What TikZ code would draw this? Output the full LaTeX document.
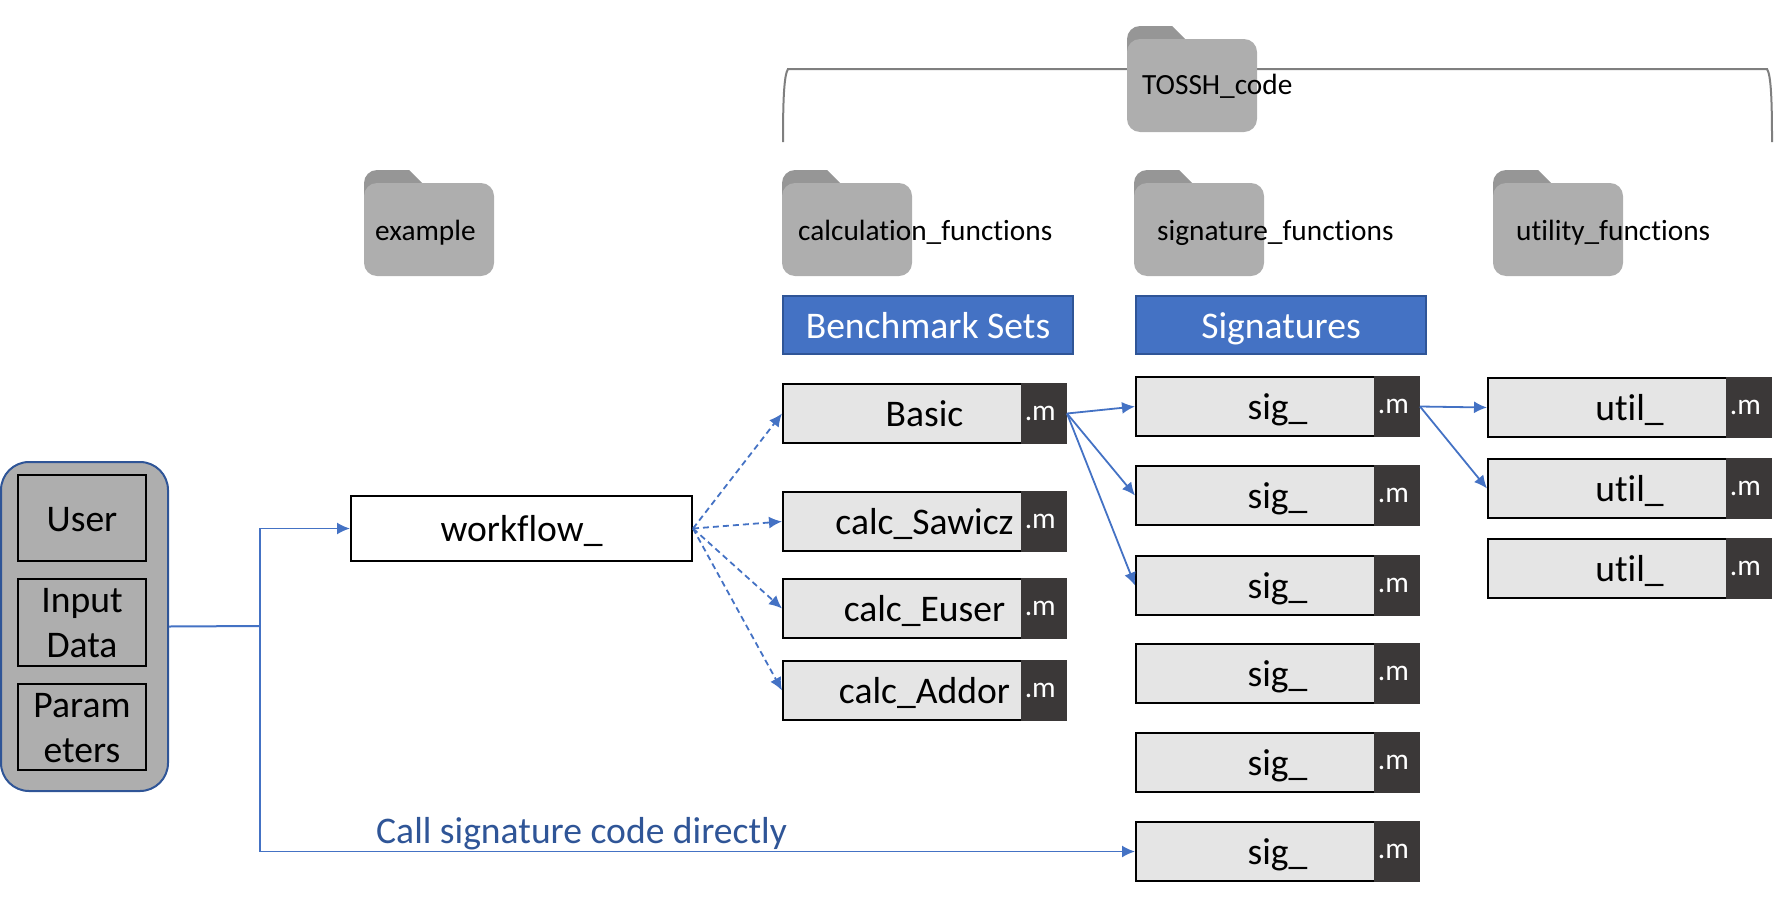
\documentclass[tikz,border=0pt]{standalone}
\usepackage{fontspec}
\setmainfont{Carlito}[Ligatures=CommonOff]
\usetikzlibrary{arrows.meta}
\definecolor{flowblue}{HTML}{4472C4}
\definecolor{deepblue}{HTML}{2F5597}
\definecolor{tagdark}{HTML}{3B3838}
\definecolor{boxlight}{HTML}{E5E5E5}
\definecolor{foldergrey}{HTML}{AEAEAE}
\definecolor{tabgrey}{HTML}{969696}
\definecolor{bracegrey}{HTML}{7F7F7F}
\newcommand{\bigtext}{\fontsize{37.6}{44.5}\selectfont}
\newcommand{\mfile}{\makebox[38.7pt][l]{.m}}
\tikzset{
	codebox/.style = {draw, line width = 2pt, fill = boxlight, anchor = north west, inner sep = 0pt, xshift = -1pt, yshift = 1pt,
		minimum width = 283pt, minimum height = 59pt, text height = 42pt, text depth = 17pt, font = \bigtext},
	mtag/.style = {draw = tagdark, line width = 1pt, fill = tagdark, text = white, anchor = north east, inner xsep = 3pt, inner ysep = 0pt,
		minimum height = 60pt, text height = 36.5pt, text depth = 23.5pt, font = \fontsize{29.5}{32}\selectfont},
	titlebox/.style = {draw = deepblue, line width = 2pt, fill = flowblue, text = white, anchor = north west, inner sep = 0pt, xshift = -1pt, yshift = 1pt,
		minimum width = 290pt, minimum height = 58pt, text height = 42pt, text depth = 16pt, font = \bigtext},
	inputbox/.style = {draw, line width = 2pt, anchor = north west, inner sep = 0pt, xshift = -1pt, yshift = 1pt,
		minimum width = 128pt, align = center, font = \bigtext},
	folderlabel/.style = {anchor = base west, inner sep = 0pt, font = \fontsize{29.3}{32}\selectfont},
	flow/.style = {draw = flowblue, line width = 1.8pt, -{Latex[length = 13pt, width = 12pt]}},
	flowdash/.style = {flow, dash pattern = on 6pt off 4pt},
	folder/.pic = {
		\fill[tabgrey] (0,40) [rounded corners = 13pt] -- (0,0) [sharp corners] -- (45,0) -- (58,13) -- (58,40) -- cycle;
		\fill[foldergrey, rounded corners = 13pt] (0,13) rectangle (130,106);
	}
}
\begin{document}
\begin{tikzpicture}[x = 1pt, y = -1pt]
	\useasboundingbox (0,0) rectangle (1779,897);

	% top bracket
	\coordinate (braceleft) at (783,142);
	\coordinate (braceright) at (1772,142);
	\draw[bracegrey, line width = 2pt] (braceleft) .. controls (783,100) and (784,75) .. (788,69) -- (1767,69) .. controls (1771,75) and (1772,100) .. (braceright);

	% folders
	\pic at (1127,26) {folder};
	\pic at (364,170) {folder};
	\pic at (782,170) {folder};
	\pic at (1134,170) {folder};
	\pic at (1493,170) {folder};
	\node[folderlabel] (tosshlabel) at (1142,94) {TOSSH\_code};
	\node[folderlabel] (examplelabel) at (375,240) {example};
	\node[folderlabel] (calclabel) at (798,240) {calculation\_functions};
	\node[folderlabel] (siglabel) at (1157,240) {signature\_functions};
	\node[folderlabel] (utillabel) at (1516,240) {utility\_functions};

	\node[titlebox] (benchmark) at (783,296) {Benchmark Sets};
	\node[titlebox] (signatures) at (1136,296) {Signatures};

	% left block
	\node[draw = deepblue, line width = 2pt, fill = foldergrey, rounded corners = 28pt, anchor = north west, inner sep = 0pt, xshift = -1pt, minimum width = 167pt, minimum height = 329pt] (caller) at (1,461) {};
	\node[inputbox, minimum height = 86pt, text height = 56pt, text depth = 30pt] (user) at (18,475) {User};
	\node[inputbox, minimum height = 87pt, text height = 78pt, text depth = 9pt] (data) at (18,579) {Input\\Data};
	\node[inputbox, minimum height = 86pt, text height = 78pt, text depth = 8pt] (params) at (18,684) {Param\\eters};

	\node[codebox, fill = white, minimum width = 341pt, minimum height = 65pt, text height = 45pt, text depth = 20pt] (workflow) at (351,496) {workflow\_};

	% benchmark scripts
	\foreach \name/\ytop/\script in {basic/384/Basic, sawicz/492/calc\_Sawicz, euser/579/calc\_Euser, addor/661/calc\_Addor}{
		\node[codebox] (\name) at (783,\ytop) {\script};
		\node[mtag] (\name m) at (\name.north east) {\mfile};
	}

	% signature scripts
	\foreach \name/\ytop in {sigA/377, sigB/466, sigC/556, sigD/644, sigE/733, sigF/822}{
		\node[codebox] (\name) at (1136,\ytop) {sig\_};
		\node[mtag] (\name m) at (\name.north east) {\mfile};
	}

	% utility scripts
	\foreach \name/\ytop in {utilA/378, utilB/459, utilC/539}{
		\node[codebox] (\name) at (1488,\ytop) {util\_};
		\node[mtag] (\name m) at (\name.north east) {\mfile};
	}

	\coordinate (branch) at (260,626);
	\draw[flowblue, line width = 2pt] (caller.east) -- (branch);
	\draw[flow] (branch) |- (workflow.west);
	\draw[flow] (branch) |- (sigF.west);

	\foreach \target in {basic, sawicz, euser, addor}{
		\draw[flowdash] (workflow.east) -- (\target.west);
	}
	\foreach \target in {sigA, sigB, sigC}{
		\draw[flow] (basic.east) -- (\target.west);
	}
	\foreach \target in {utilA, utilB}{
		\draw[flow] (sigA.east) -- (\target.west);
	}

	\node[anchor = base west, inner sep = 0pt, text = deepblue, font = \bigtext] (direct) at (376,843) {Call signature code directly};
\end{tikzpicture}
\end{document}
